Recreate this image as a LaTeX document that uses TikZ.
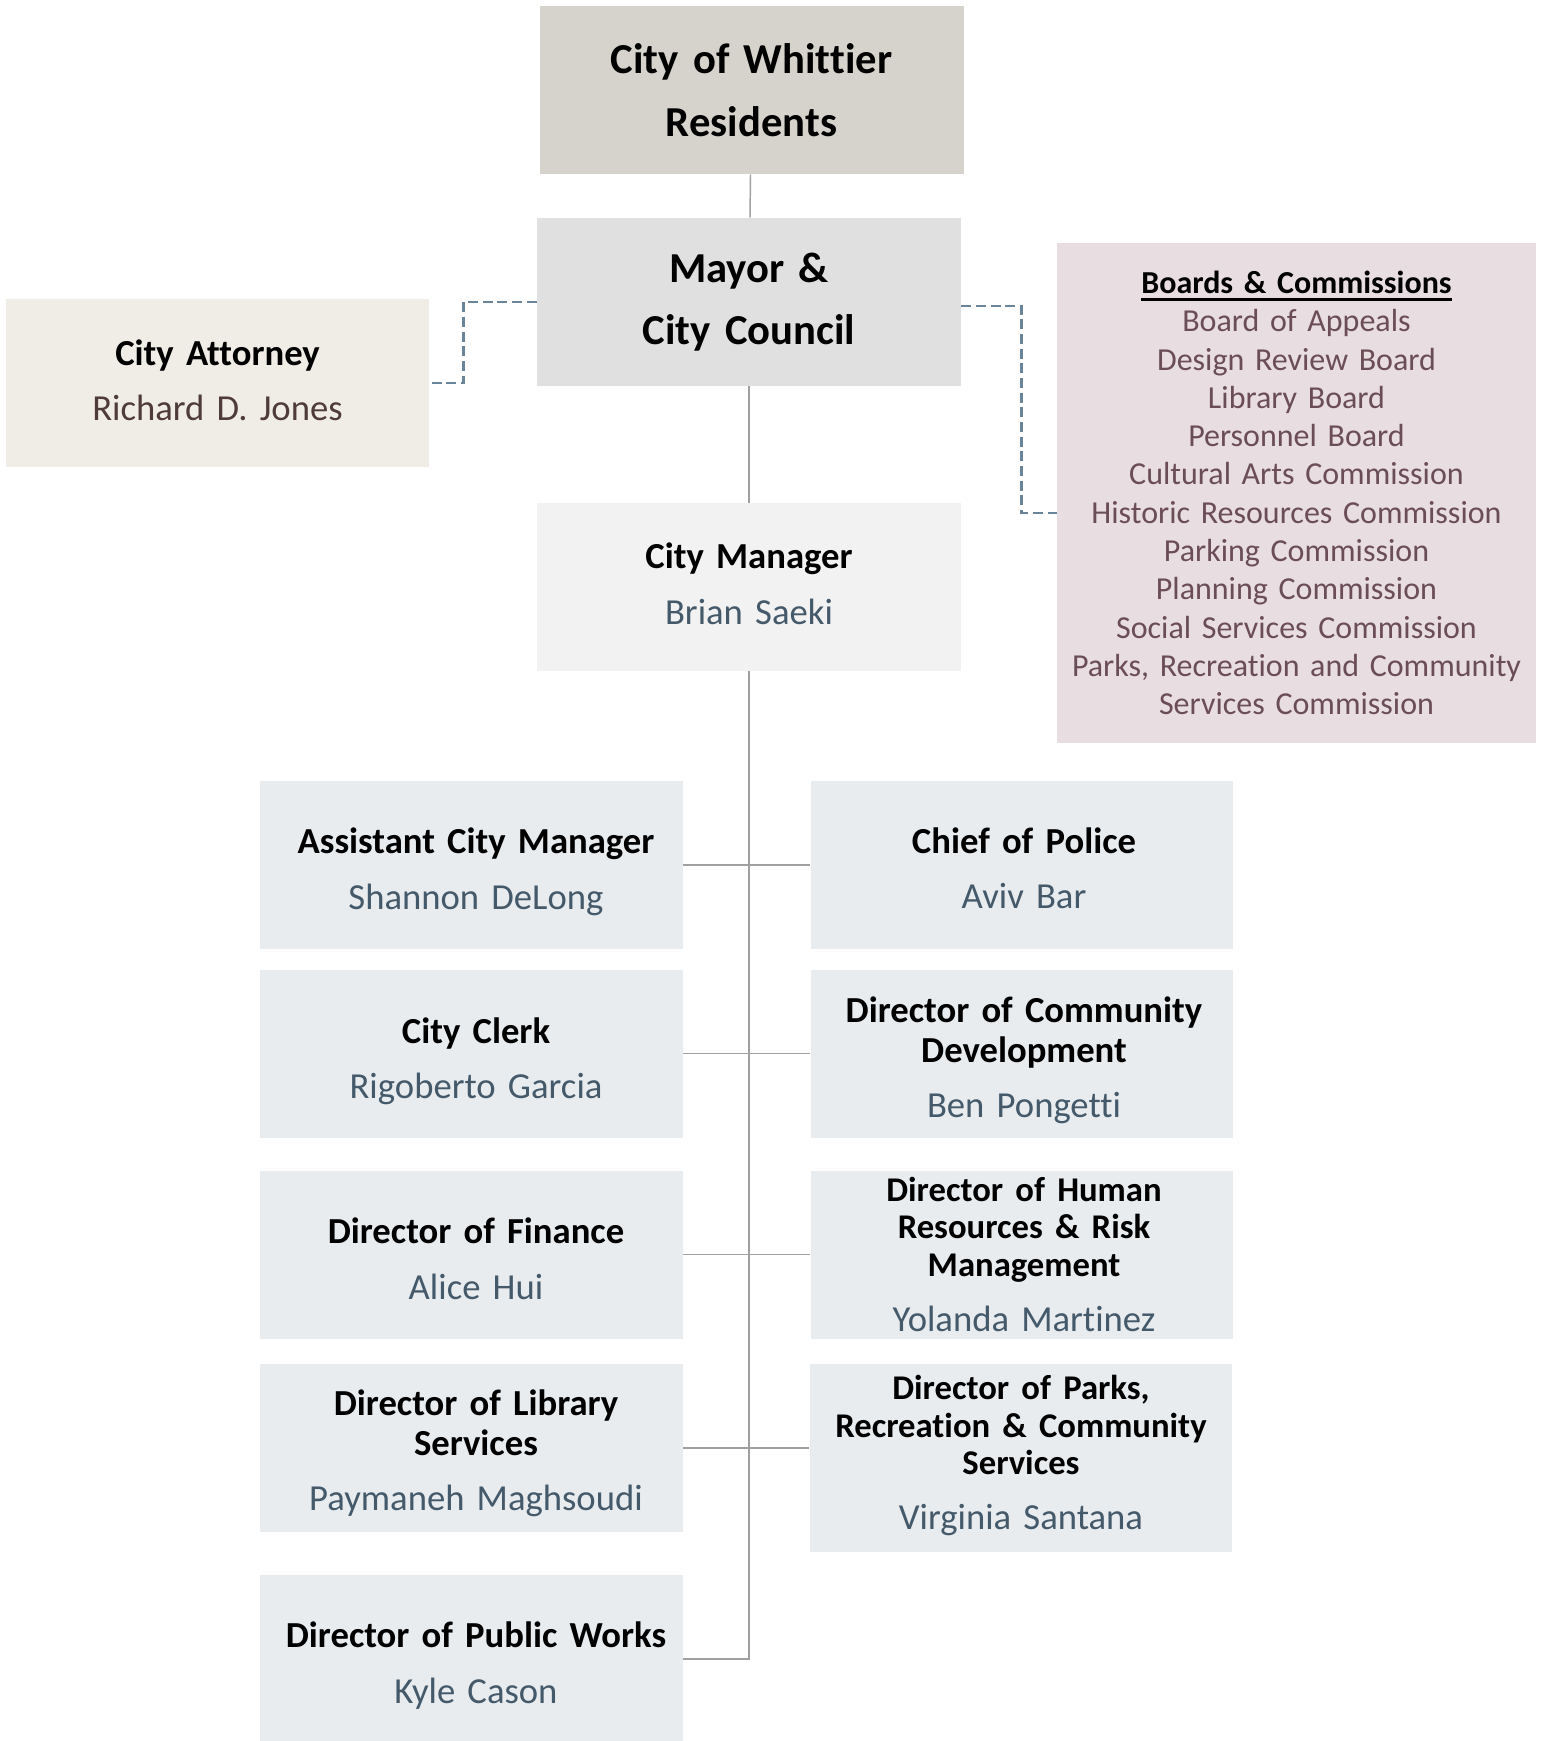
\documentclass[tikz,border=0pt]{standalone}
\usepackage{fontspec}
\setmainfont{Carlito}[Ligatures=NoCommon]
\usepackage{tikz}
\usetikzlibrary{positioning}

\definecolor{resfill}{HTML}{D6D3CC}
\definecolor{councilfill}{HTML}{E0E0E0}
\definecolor{attfill}{HTML}{F0EDE7}
\definecolor{cmfill}{HTML}{F2F2F2}
\definecolor{boardfill}{HTML}{E8DDE1}
\definecolor{deptfill}{HTML}{E8ECEF}
\definecolor{namegray}{HTML}{44596A}
\definecolor{attname}{HTML}{4F3B37}
\definecolor{boardtext}{HTML}{6B4D58}
\definecolor{dashblue}{HTML}{6A8599}
\definecolor{linegray}{HTML}{A0A0A0}

\newcommand{\bigtitle}{\fontsize{32}{47}\selectfont\bfseries}
\newcommand{\depttext}{\fontsize{27.5}{30}\selectfont}
\newcommand{\smalltitle}{\fontsize{26}{28}\selectfont}
\newcommand{\headline}[1]{\leavevmode\setbox0=\hbox{#1}\rlap{\vrule height -3.5pt depth 5.7pt width \wd0}\box0}
\newcommand{\person}[2]{{\bfseries #1\par}\vspace{11.5pt}{\depttext #2\par}}

\tikzset{
  box/.style={rectangle, inner sep=0pt, align=center},
  top box/.style={box, minimum width=318pt, minimum height=126pt, text width=310pt, font=\bigtitle},
  dept/.style={box, fill=deptfill, minimum width=317pt, minimum height=126pt},
  card/.style={box, text width=310pt, font=\depttext},
  trunk/.style={draw=linegray, line width=1.1pt},
  dashlink/.style={draw=dashblue, line width=2.2pt, dash pattern=on 7.5pt off 3.5pt}
}

\begin{document}
\begin{tikzpicture}[x=0.75pt, y=-0.75pt]
        \useasboundingbox (0,0) rectangle (1548,1741);

        % top of the chart
        \node [top box, fill=resfill] (residents) at (751.5,90) {City of Whittier\\Residents};
        \node [top box, fill=councilfill] (council) at (749,302) {Mayor \&\\City Council};

        \node [dept, fill=attfill] (attorney) at (217.5,383) {};
        \node [card] (attorney-text) at (217.5,380.2)
        {\person{City Attorney}{\color{attname}Richard D. Jones}};

        \node [dept, fill=cmfill, minimum width=318pt] (manager) at (749,587) {};
        \node [card] (manager-text) at (749,583.7)
        {\person{City Manager}{\color{namegray}Brian Saeki}};

        \node [box, fill=boardfill, minimum width=359pt, minimum height=375pt, text width=355pt,
          font=\fontsize{24}{28.7}\selectfont, text=boardtext] (boards) at (1296.5,493)
        {{\color{black}\headline{\textbf{Boards \& Commissions}}}\\
          Board of Appeals\\Design Review Board\\Library Board\\Personnel Board\\
          Cultural Arts Commission\\Historic Resources Commission\\Parking Commission\\
          Planning Commission\\Social Services Commission\\
          Parks, Recreation and Community\\Services Commission};

        % departments, left column (\d moves the text down inside its box)
        \foreach \t/\n/\y/\d [count=\i] in {
          {Assistant City Manager}/{Shannon DeLong}/865/6.7,
          {City Clerk}/{Rigoberto Garcia}/1053.5/7.8,
          {Director of Finance}/{Alice Hui}/1254.5/4.4,
          {Director of Library\\Services}/{Paymaneh Maghsoudi}/1448/5,
          {Director of Public Works}/{Kyle Cason}/1659/6.7}
        {
        \node [dept] (left-\i) at (471.5,\y) {};
        \node [card] (left-\i-text) at (476,\y+\d) {\person{\t}{\color{namegray}\n}};
        }

        % departments, right column
        \foreach \t/\n/\y/\d [count=\i] in {
          {Chief of Police}/{Aviv Bar}/865/3.3,
          {Director of Community\\Development}/{Ben Pongetti}/1053.5/6.7,
          {\smalltitle Director of Human\\Resources \& Risk\\Management}/{Yolanda Martinez}/1254.5/0}
        {
        \node [dept] (right-\i) at (1022,\y) {};
        \node [card] (right-\i-text) at (1024,\y+\d) {\person{\t}{\color{namegray}\n}};
        }
        \node [dept, minimum height=141pt] (right-4) at (1021,1458) {};
        \node [card] (right-4-text) at (1021,1455.8)
        {\person{\smalltitle Director of Parks,\\Recreation \& Community\\Services}{\color{namegray}Virginia Santana}};

        % solid lines
        \draw [trunk] (residents) -- (council);
        \draw [trunk] (council) -- (manager);
        \draw [trunk] (manager.south) |- (left-5.east);
        \foreach \i in {1,...,4}
        \draw [trunk] (left-\i.east) -- (left-\i.east -| right-\i.west);

        % dashed links
        \draw [dashlink] (council.west) -- ++(-73,0) |- (attorney.east);
        \draw [dashlink] ([yshift=-3pt]council.east) -- ++(60,0) |- ([yshift=-15pt]boards.west);

\end{tikzpicture}
\end{document}
